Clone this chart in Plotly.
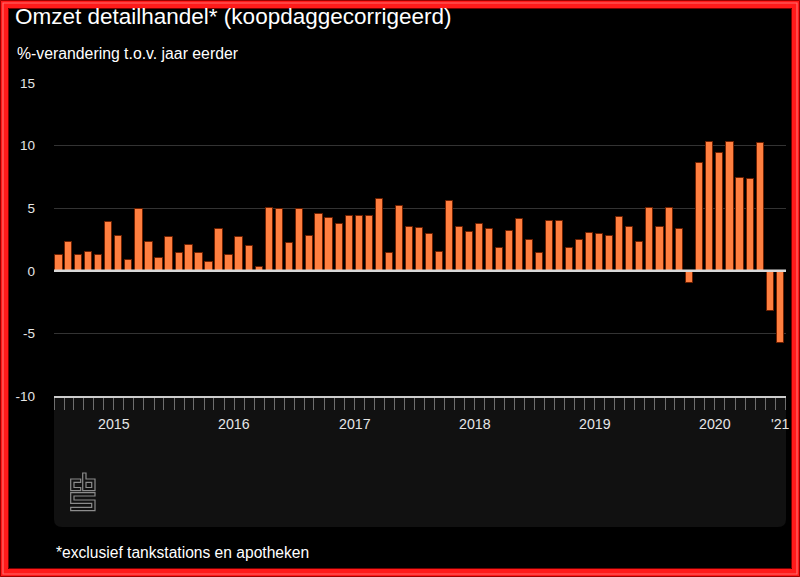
import plotly.graph_objects as go
import pandas as pd

# ---------------- data ----------------
months = pd.date_range("2015-01-01", "2021-01-01", freq="MS").strftime("%Y-%m-%d").tolist()

values_2015 = [1.3, 2.3, 1.3, 1.5, 1.3, 3.9, 2.8, 0.9, 4.9, 2.3, 1.0, 2.7]
values_2016 = [1.4, 2.1, 1.4, 0.7, 3.3, 1.3, 2.7, 2.0, 0.3, 5.0, 4.9, 2.2]
values_2017 = [4.9, 2.8, 4.5, 4.2, 3.7, 4.4, 4.4, 4.4, 5.7, 1.4, 5.2, 3.5]
values_2018 = [3.4, 2.9, 1.5, 5.6, 3.5, 3.1, 3.7, 3.3, 1.8, 3.2, 4.1, 2.5]
values_2019 = [1.4, 4.0, 4.0, 1.8, 2.5, 3.0, 2.9, 2.8, 4.3, 3.5, 2.3, 5.0]
values_2020 = [3.5, 5.0, 3.3, -1.0, 8.6, 10.3, 9.4, 10.3, 7.4, 7.3, 10.2, -3.2]
values_2021 = [-5.8]
values = values_2015 + values_2016 + values_2017 + values_2018 + values_2019 + values_2020 + values_2021

year_labels = ["2015", "2016", "2017", "2018", "2019", "2020", "'21"]
year_starts = ["2015-01-01", "2016-01-01", "2017-01-01", "2018-01-01", "2019-01-01", "2020-01-01", "2021-01-01"]
year_ends = ["2016-01-01", "2017-01-01", "2018-01-01", "2019-01-01", "2020-01-01", "2021-01-01", "2021-02-01"]
y_ticks = [-10, -5, 0, 5, 10, 15]
y_tick_labels = ["-10", "-5", "0", "5", "10", "15"]

title = "Omzet detailhandel* (koopdaggecorrigeerd)"
subtitle = "%-verandering t.o.v. jaar eerder"
footnote = "*exclusief tankstations en apotheken"

# ---------------- layout helpers ----------------
W, H = 800, 577
L, R, T, B = 54, 14, 83, 181
PW, PH = W - L - R, H - T - B


def px(x):
    return (x - L) / PW


def py(y):
    return (H - B - y) / PH


def path(points, close=True):
    s = "M " + " L ".join(f"{px(a):.5f},{py(b):.5f}" for a, b in points)
    return s + (" Z" if close else "")


FONT = "Liberation Sans, Arial, sans-serif"

fig = go.Figure()
fig.add_trace(go.Bar(
    x=months, y=values,
    xperiod="M1", xperiodalignment="middle",
    width=22.0 * 86400000,
    marker=dict(color="#ff7f40", line=dict(color="#6e2000", width=1)),
    hoverinfo="x+y",
))

shapes = []
# bottom navigator-like panel with rounded bottom corners
r = 8
x0, x1, y0, y1 = 54, 786, 397, 527
panel = (f"M {px(x0)},{py(y0)} L {px(x1)},{py(y0)} L {px(x1)},{py(y1 - r)} "
         f"Q {px(x1)},{py(y1)} {px(x1 - r)},{py(y1)} L {px(x0 + r)},{py(y1)} "
         f"Q {px(x0)},{py(y1)} {px(x0)},{py(y1 - r)} Z")
shapes.append(dict(type="path", xref="paper", yref="paper", path=panel,
                   fillcolor="#111111", line=dict(width=0), layer="below"))

# zero reference line drawn over the bars
shapes.append(dict(type="line", xref="paper", yref="y", x0=0, x1=1, y0=0, y1=0,
                   line=dict(color="#d9d9d9", width=2.5), layer="above"))

# CBS logo (outline)
logo_col = "#8c8c8c"
logo_paths = [
    [(80.7, 479), (70.7, 479), (70.7, 490.7), (80.7, 490.7), (80.7, 487.5), (74, 487.5), (74, 482.3), (80.7, 482.3)],
    [(82.7, 473), (86, 473), (86, 479), (95, 479), (95, 490.7), (82.7, 490.7)],
    [(86, 482.3), (91.7, 482.3), (91.7, 487.5), (86, 487.5)],
    [(70.7, 492.7), (95, 492.7), (95, 496), (74, 496), (74, 500), (95, 500), (95, 510.7), (70.7, 510.7),
     (70.7, 507.4), (91.7, 507.4), (91.7, 503.3), (70.7, 503.3)],
]
for pts in logo_paths:
    shapes.append(dict(type="path", xref="paper", yref="paper", path=path(pts),
                       line=dict(color=logo_col, width=1.2), fillcolor="rgba(0,0,0,0)"))

# red frame
shapes.append(dict(type="rect", xref="paper", yref="paper",
                   x0=px(4), x1=px(W - 4), y0=py(4), y1=py(H - 4),
                   line=dict(color="#ff1a1a", width=8), fillcolor="rgba(0,0,0,0)"))
shapes.append(dict(type="rect", xref="paper", yref="paper",
                   x0=px(3), x1=px(W - 3), y0=py(3), y1=py(H - 3),
                   line=dict(color="#ff6a6a", width=1.2), fillcolor="rgba(0,0,0,0)"))
shapes.append(dict(type="rect", xref="paper", yref="paper",
                   x0=px(0.5), x1=px(W - 0.5), y0=py(0.5), y1=py(H - 0.5),
                   line=dict(color="#a00000", width=1), fillcolor="rgba(0,0,0,0)"))
shapes.append(dict(type="rect", xref="paper", yref="paper",
                   x0=px(8.5), x1=px(W - 8.5), y0=py(8.5), y1=py(H - 8.5),
                   line=dict(color="#7a0000", width=1), fillcolor="rgba(0,0,0,0)"))

annotations = [
    dict(text=title, x=px(13), y=py(17), xref="paper", yref="paper", xanchor="left", yanchor="middle",
         showarrow=False, font=dict(family=FONT, size=22.5, color="#ffffff")),
    dict(text=subtitle, x=px(15), y=py(53), xref="paper", yref="paper", xanchor="left", yanchor="middle",
         showarrow=False, font=dict(family=FONT, size=15.8, color="#ffffff")),
    dict(text=footnote, x=px(54), y=py(552), xref="paper", yref="paper", xanchor="left", yanchor="middle",
         showarrow=False, font=dict(family=FONT, size=15.6, color="#ffffff")),
]
for lab, s, e in zip(year_labels, year_starts, year_ends):
    mid = pd.Timestamp(s) + (pd.Timestamp(e) - pd.Timestamp(s)) / 2
    annotations.append(dict(text=lab, x=mid.strftime("%Y-%m-%d %H:%M"), y=py(424), xref="x", yref="paper",
                            xanchor="center", yanchor="middle", showarrow=False,
                            font=dict(family=FONT, size=14.2, color="#e6e6e6")))

fig.update_layout(
    width=W, height=H,
    margin=dict(l=L, r=R, t=T, b=B, pad=0),
    paper_bgcolor="#000000", plot_bgcolor="#000000",
    showlegend=False,
    bargap=0,
    font=dict(family=FONT, color="#ffffff"),
    shapes=shapes,
    annotations=annotations,
    xaxis=dict(
        type="date",
        range=["2015-01-01", "2021-02-02 12:00"],
        showgrid=False, zeroline=False,
        showline=True, linecolor="#cccccc", linewidth=1.5,
        ticks="outside", tickvals=year_starts, ticktext=[""] * len(year_starts),
        ticklen=43, tickcolor="#6e6e6e", tickwidth=1,
        showticklabels=False,
        minor=dict(ticks="outside", ticklen=12, tickcolor="#6e6e6e", tickwidth=1,
                   dtick="M1", tick0="2015-01-01", showgrid=False),
    ),
    yaxis=dict(
        range=[-10, 15], tickvals=y_ticks, ticktext=y_tick_labels,
        showgrid=True, gridcolor="#333333", gridwidth=1,
        zeroline=False,
        showline=False, ticks="",
        tickfont=dict(family=FONT, size=13.5, color="#e6e6e6"),
        ticklabelstandoff=18,
    ),
)

fig.write_html("out.html", config={"displayModeBar": False},
               post_script="document.body.style.margin='0';document.body.style.background='#000';")
